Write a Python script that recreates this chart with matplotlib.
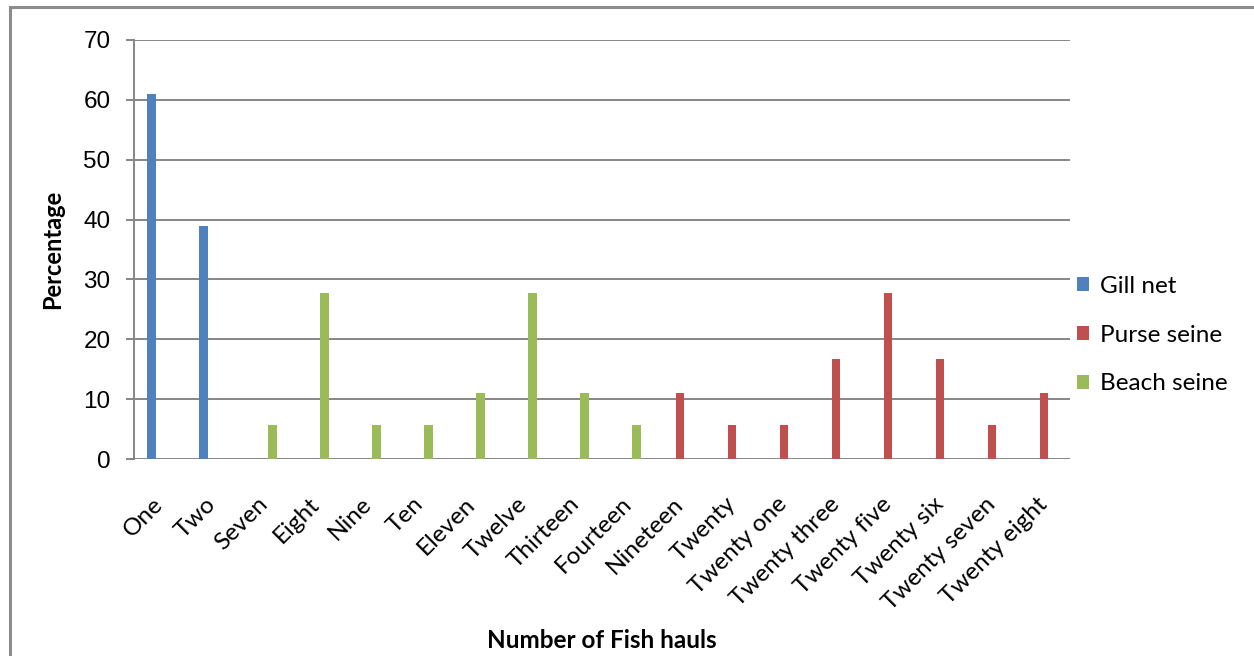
import matplotlib
matplotlib.use("Agg")
import matplotlib.pyplot as plt
from matplotlib.patches import Rectangle, Patch
import numpy as np

# Fish hauls per fishing trip, percentage of trips by gear type
categories = ["One", "Two", "Seven", "Eight", "Nine", "Ten", "Eleven", "Twelve",
              "Thirteen", "Fourteen", "Nineteen", "Twenty", "Twenty one",
              "Twenty three", "Twenty five", "Twenty six", "Twenty seven",
              "Twenty eight"]
gill_net = [61, 39, 0, 0, 0, 0, 0, 0, 0, 0, 0, 0, 0, 0, 0, 0, 0, 0]
purse_seine = [0, 0, 0, 0, 0, 0, 0, 0, 0, 0, 11.1, 5.6, 5.6, 16.7, 27.8, 16.7, 5.6, 11.1]
beach_seine = [0, 0, 5.6, 27.8, 5.6, 5.6, 11.1, 27.8, 11.1, 5.6, 0, 0, 0, 0, 0, 0, 0, 0]
series_names = ["Gill net", "Purse seine", "Beach seine"]
colors = ["#4F81BD", "#C0504D", "#9BBB59"]
y_ticks = [0, 10, 20, 30, 40, 50, 60, 70]

fig = plt.figure(figsize=(12.54, 6.56), dpi=100)
ax = fig.add_axes([134 / 1254, 1 - 459 / 656, (1070 - 134) / 1254, (459 - 40) / 656])

x = np.arange(len(categories))
w = 0.173
for i, (vals, c) in enumerate(zip([gill_net, purse_seine, beach_seine], colors)):
    ax.bar(x + (i - 1) * w, vals, width=w, color=c, zorder=3, linewidth=0)

grid_c = "#868686"
ax.set_xlim(-0.5, len(categories) - 0.5)
ax.set_ylim(0, 70)
ax.set_yticks(y_ticks)
ax.yaxis.grid(True, color=grid_c, linewidth=1.4, zorder=1)
ax.set_axisbelow(True)
for s in ["top", "right", "bottom"]:
    ax.spines[s].set_visible(False)
ax.spines["left"].set_color(grid_c)
ax.spines["left"].set_linewidth(1.4)
ax.tick_params(axis="y", length=6, width=1.4, color=grid_c, pad=11,
               labelsize=17.5)
for lbl in ax.get_yticklabels():
    lbl.set_family(["Liberation Sans Narrow", "Liberation Sans"])

ax.set_xticks(x)
ax.set_xticklabels(categories, rotation=45, ha="right", va="center",
                   rotation_mode="anchor", family="Lato", fontsize=17.5)
ax.tick_params(axis="x", length=0, pad=30)

ax.set_ylabel("Percentage", family="Lato", fontweight="bold", fontsize=17,
              labelpad=14)
fig.text(602 / 1254, 1 - 640 / 656, "Number of Fish hauls", family="Lato",
         fontweight="bold", fontsize=17.5, ha="center", va="center")

handles = [Patch(facecolor=c, edgecolor="none") for c in colors]
fig.legend(handles, series_names, loc="center left",
           bbox_to_anchor=(1072 / 1254, 1 - 335 / 656), frameon=False,
           prop={"family": "Lato", "size": 17.5}, handlelength=0.5,
           handleheight=0.5, handletextpad=0.45, labelspacing=1.15,
           borderaxespad=0, borderpad=0.2)

# outer chart border
fig.patches.append(Rectangle((10 / 1254, -0.1), 1.2, 1 - 7 / 656 + 0.1,
                             transform=fig.transFigure, fill=False,
                             edgecolor="#8C8C8C", linewidth=2.2))

fig.savefig("out.png", dpi=100)
